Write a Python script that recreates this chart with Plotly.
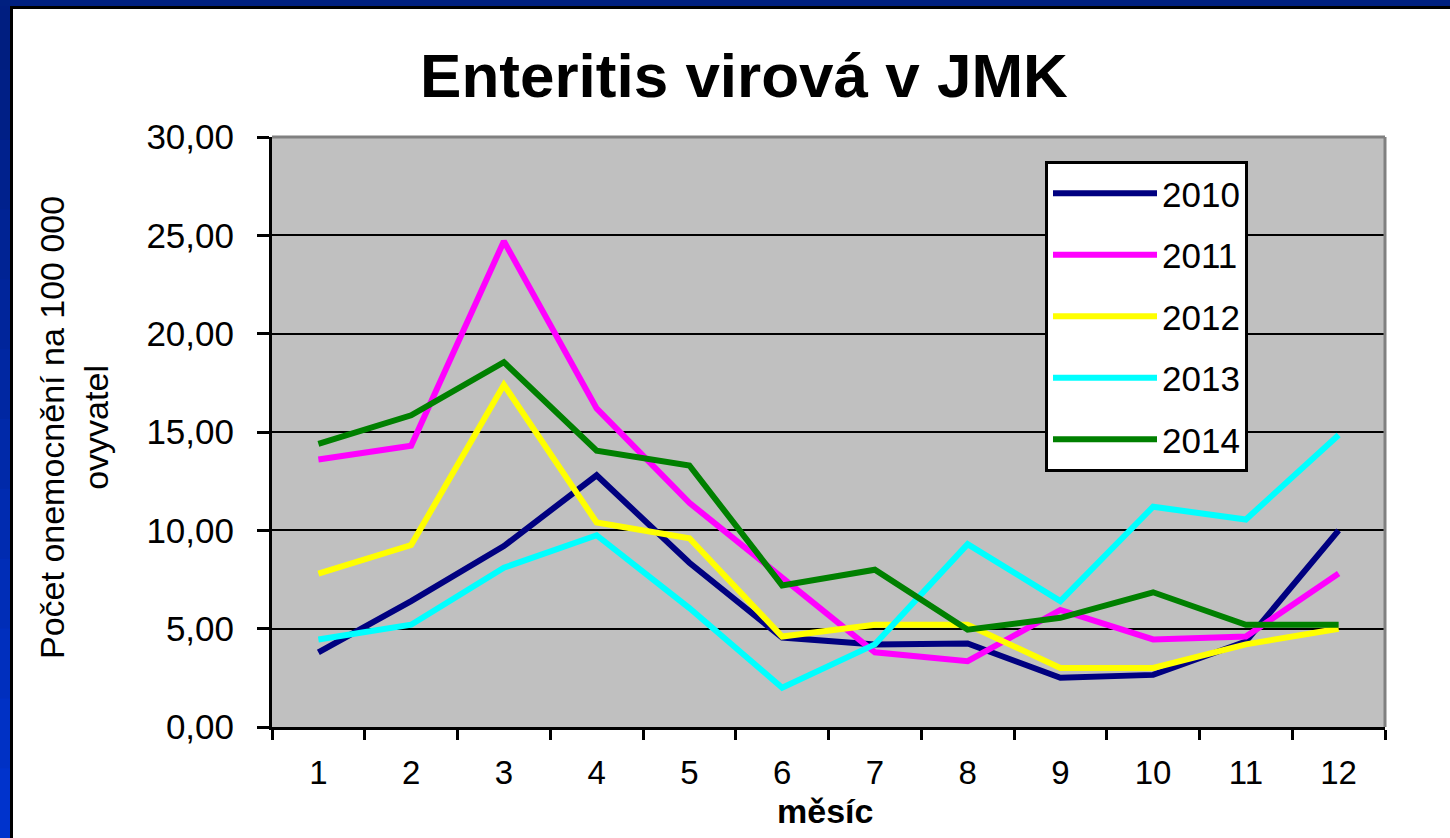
import plotly.graph_objects as go

months = ["1", "2", "3", "4", "5", "6", "7", "8", "9", "10", "11", "12"]
y2010 = [3.8, 6.4, 9.2, 12.8, 8.35, 4.55, 4.2, 4.25, 2.5, 2.65, 4.35, 10.0]
y2011 = [13.6, 14.3, 24.7, 16.2, 11.4, 7.6, 3.8, 3.35, 5.95, 4.45, 4.6, 7.8]
y2012 = [7.8, 9.25, 17.4, 10.4, 9.6, 4.6, 5.2, 5.2, 3.0, 3.0, 4.2, 5.0]
y2013 = [4.45, 5.2, 8.1, 9.75, 6.05, 2.0, 4.2, 9.3, 6.4, 11.2, 10.55, 14.85]
y2014 = [14.4, 15.85, 18.55, 14.05, 13.3, 7.2, 8.0, 4.95, 5.55, 6.85, 5.2, 5.2]
series_names = ["2010", "2011", "2012", "2013", "2014"]
series_vals = [y2010, y2011, y2012, y2013, y2014]
colors = ["#000080", "#FF00FF", "#FFFF00", "#00FFFF", "#008000"]
ytick_vals = [0, 5, 10, 15, 20, 25, 30]
ytick_text = ["0,00", "5,00", "10,00", "15,00", "20,00", "25,00", "30,00"]

W, H = 1450, 838
L, R, T, B = 272, 1385, 137, 727


def px(x):
    return (x - L) / (R - L)


def py(y):
    return (B - y) / (B - T)


fig = go.Figure()
for name, vals, col in zip(series_names, series_vals, colors):
    fig.add_trace(go.Scatter(
        x=months, y=vals, name=name, mode="lines",
        line=dict(color=col, width=6), legendgroup=name,
    ))

FONT = "Liberation Sans, Arial, sans-serif"

shapes = []
# blue frame (gradient on the left strip)
n = 12
c0 = (0x00, 0x1E, 0x80)
c1 = (0x00, 0x33, 0xCC)
for i in range(n):
    t = i / (n - 1)
    col = "rgb(%d,%d,%d)" % tuple(int(a + (b - a) * t) for a, b in zip(c0, c1))
    shapes.append(dict(type="rect", xref="paper", yref="paper",
                       x0=px(0), x1=px(10), y0=py(H * i / n), y1=py(H * (i + 1) / n + 1),
                       fillcolor=col, line=dict(width=0), layer="above"))
shapes.append(dict(type="rect", xref="paper", yref="paper",
                   x0=px(0), x1=px(W), y0=py(0), y1=py(6),
                   fillcolor="rgb(0,32,128)", line=dict(width=0), layer="above"))
shapes.append(dict(type="rect", xref="paper", yref="paper",
                   x0=px(10), x1=px(13), y0=py(6), y1=py(H),
                   fillcolor="black", line=dict(width=0), layer="above"))
shapes.append(dict(type="rect", xref="paper", yref="paper",
                   x0=px(10), x1=px(W), y0=py(6), y1=py(9),
                   fillcolor="black", line=dict(width=0), layer="above"))
# gray top/right border of plot area
shapes.append(dict(type="line", xref="paper", yref="paper",
                   x0=0, x1=1, y0=1, y1=1, line=dict(color="#808080", width=3), layer="above"))
shapes.append(dict(type="line", xref="paper", yref="paper",
                   x0=1, x1=1, y0=0, y1=1, line=dict(color="#808080", width=3), layer="above"))

annotations = [
    dict(text="Počet onemocnění na 100 000<br>ovyvatel", xref="paper", yref="paper",
         x=px(74), y=py(428), xanchor="center", yanchor="middle", textangle=-90,
         showarrow=False, font=dict(family=FONT, size=34, color="black")),
    dict(text="<b>měsíc</b>", xref="paper", yref="paper",
         x=px(825), y=py(811), xanchor="center", yanchor="middle",
         showarrow=False, font=dict(family=FONT, size=34, color="black")),
]

fig.update_layout(
    width=W, height=H,
    margin=dict(l=L, r=W - R, t=T, b=H - B, pad=0),
    paper_bgcolor="white", plot_bgcolor="#C0C0C0",
    title=dict(text="<b>Enteritis virová v JMK</b>", x=744 / W, y=1 - 75 / H,
               xanchor="center", yanchor="middle",
               font=dict(family=FONT, size=62, color="black")),
    font=dict(family=FONT, color="black"),
    xaxis=dict(type="category", range=[-0.5, 11.5], showgrid=False,
               showline=True, linecolor="black", linewidth=3,
               ticks="outside", ticklen=10, tickwidth=3, tickcolor="black",
               tickson="boundaries", tickfont=dict(size=33), ticklabelstandoff=14,
               zeroline=False),
    yaxis=dict(range=[0, 30], tickvals=ytick_vals, ticktext=ytick_text,
               showgrid=True, gridcolor="black", gridwidth=2,
               showline=True, linecolor="black", linewidth=3,
               ticks="outside", ticklen=12, tickwidth=3, tickcolor="black",
               tickfont=dict(size=35), ticklabelstandoff=16, zeroline=False),
    legend=dict(x=px(1045), y=py(161), xanchor="left", yanchor="top",
                bgcolor="white", bordercolor="black", borderwidth=3,
                font=dict(size=35, color="black"), tracegroupgap=13,
                itemwidth=104, traceorder="grouped"),
    shapes=shapes,
    annotations=annotations,
    showlegend=True,
)

fig.write_html("out.html", config={"displayModeBar": False},
               post_script="document.body.style.margin='0px';document.body.style.overflow='hidden';")
